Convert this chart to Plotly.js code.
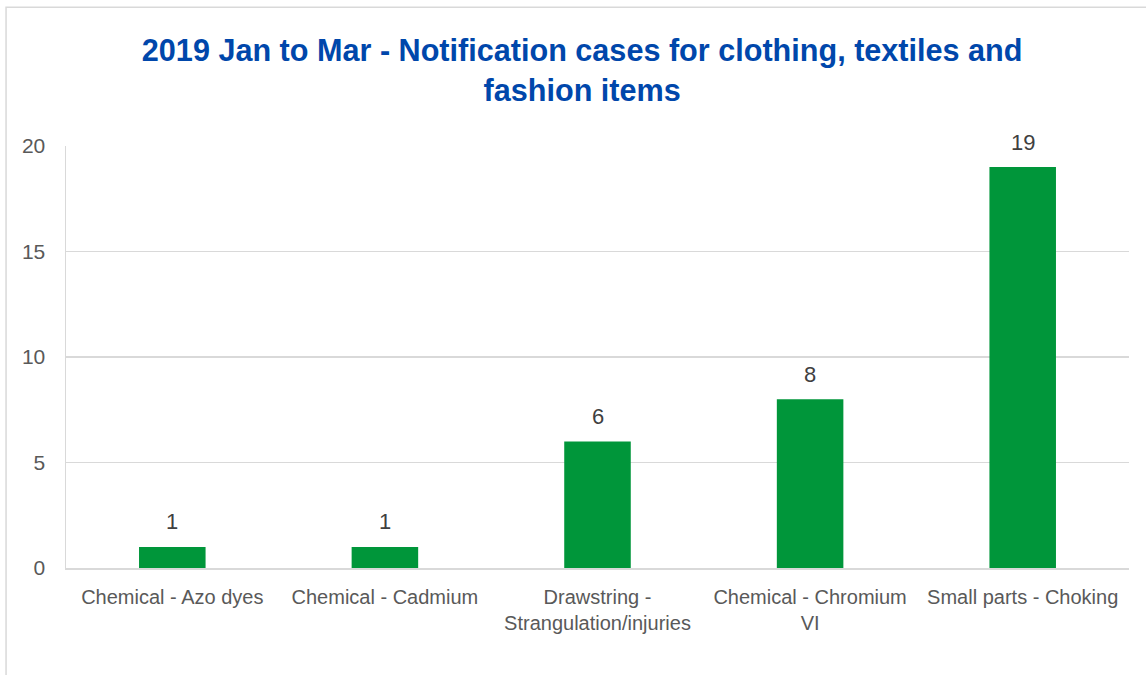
<!DOCTYPE html>
<html>
<head>
<meta charset="utf-8">
<script src="https://cdn.plot.ly/plotly-3.0.1.min.js"></script>
<style>html,body{margin:0;padding:0;background:#fff;}#chart{width:1146px;height:675px;}</style>
</head>
<body>
<div id="chart"></div>
<script>
const categories = ["Chemical - Azo dyes", "Chemical - Cadmium", "Drawstring -<br>Strangulation/injuries", "Chemical - Chromium<br>VI", "Small parts - Choking"];
const cases = [1, 1, 6, 8, 19];
const yTicks = [0, 5, 10, 15, 20];
const titleText = "2019 Jan to Mar - Notification cases for clothing, textiles and<br>fashion items";

const FONT = '"Liberation Sans", Arial, sans-serif';

const trace = {
  type: 'bar',
  x: categories,
  y: cases,
  marker: {color: '#00963a'},
  width: 0.313,
  cliponaxis: false,
  hoverinfo: 'x+y'
};

const labels = categories.map((c, i) => ({
  x: c, y: cases[i], xref: 'x', yref: 'y',
  text: String(cases[i]), showarrow: false,
  yanchor: 'middle', yshift: 25,
  font: {family: FONT, size: 22, color: '#404040'}
}));

const layout = {
  width: 1146,
  height: 675,
  margin: {l: 66, r: 17, t: 146, b: 107},
  paper_bgcolor: '#ffffff',
  plot_bgcolor: '#ffffff',
  showlegend: false,
  font: {family: FONT, color: '#595959', size: 20},
  title: {
    text: titleText,
    font: {family: FONT, size: 30.6, color: '#0047ab', weight: 'bold'},
    x: 0.508, xref: 'container', xanchor: 'center',
    y: 0.909, yref: 'container', yanchor: 'middle'
  },
  xaxis: {
    type: 'category',
    showgrid: false,
    showline: true,
    linecolor: '#d9d9d9',
    linewidth: 1.5,
    ticks: '',
    tickangle: 0,
    tickfont: {family: FONT, size: 20, color: '#595959'},
    ticklabelstandoff: 10
  },
  yaxis: {
    range: [0, 20],
    tickvals: yTicks,
    showgrid: true,
    gridcolor: '#d9d9d9',
    gridwidth: 1.5,
    showline: true,
    linecolor: '#d9d9d9',
    linewidth: 1.5,
    zeroline: false,
    ticks: '',
    tickfont: {family: FONT, size: 21, color: '#595959'},
    ticklabelstandoff: 15
  },
  annotations: labels,
  shapes: [{
    type: 'rect', xref: 'paper', yref: 'paper',
    x0: -0.0564, x1: 1.1, y0: -0.4, y1: 1.329,
    line: {color: '#d9d9d9', width: 1.5},
    fillcolor: 'rgba(0,0,0,0)', layer: 'below'
  }]
};

Plotly.newPlot('chart', [trace], layout, {displayModeBar: false, staticPlot: true});
</script>
</body>
</html>
